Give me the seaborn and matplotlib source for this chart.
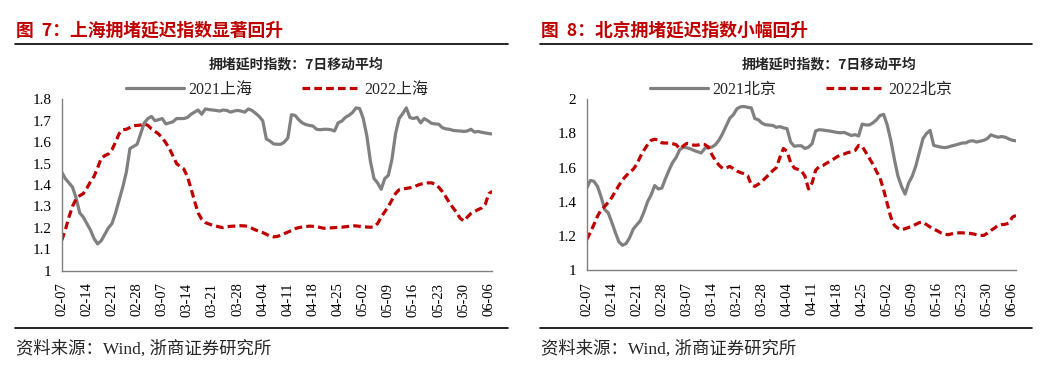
import pandas as pd
import seaborn as sns
import matplotlib.pyplot as plt
from matplotlib.lines import Line2D

# daily values from 02-07 to 06-07 (7-day moving average of congestion delay index)
sh_2021 = [1.46, 1.43, 1.41, 1.39, 1.34, 1.27, 1.25, 1.22, 1.19, 1.15,
           1.125, 1.14, 1.17, 1.20, 1.22, 1.27, 1.33, 1.39, 1.46, 1.57,
           1.58, 1.59, 1.64, 1.69, 1.71, 1.72, 1.70, 1.705, 1.71, 1.685,
           1.69, 1.695, 1.71, 1.71, 1.71, 1.715, 1.73, 1.74, 1.75, 1.73,
           1.755, 1.752, 1.75, 1.748, 1.745, 1.75, 1.748, 1.74, 1.745, 1.748,
           1.745, 1.74, 1.755, 1.748, 1.735, 1.72, 1.70, 1.615, 1.605, 1.592,
           1.59, 1.59, 1.60, 1.62, 1.728, 1.725, 1.705, 1.69, 1.682, 1.678,
           1.675, 1.66, 1.658, 1.66, 1.66, 1.658, 1.652, 1.69, 1.698, 1.715,
           1.725, 1.738, 1.76, 1.757, 1.71, 1.63, 1.51, 1.43, 1.41, 1.38,
           1.43, 1.445, 1.52, 1.64, 1.71, 1.733, 1.76, 1.715, 1.71, 1.716,
           1.69, 1.71, 1.70, 1.688, 1.685, 1.684, 1.668, 1.662, 1.66, 1.655,
           1.653, 1.652, 1.65, 1.652, 1.66, 1.647, 1.65, 1.646, 1.643, 1.64,
           1.638]
sh_2022 = [1.142, 1.19, 1.25, 1.30, 1.335, 1.35, 1.36, 1.385, 1.415, 1.44,
           1.48, 1.525, 1.537, 1.545, 1.565, 1.60, 1.64, 1.658, 1.66, 1.668,
           1.677, 1.678, 1.68, 1.686, 1.678, 1.662, 1.65, 1.638, 1.62, 1.597,
           1.57, 1.535, 1.50, 1.486, 1.475, 1.44, 1.385, 1.325, 1.27, 1.24,
           1.225, 1.218, 1.212, 1.208, 1.204, 1.201, 1.205, 1.207, 1.208, 1.209,
           1.21, 1.209, 1.206, 1.198, 1.19, 1.184, 1.178, 1.17, 1.162, 1.158,
           1.16, 1.165, 1.173, 1.18, 1.188, 1.196, 1.201, 1.204, 1.206, 1.208,
           1.207, 1.205, 1.202, 1.198, 1.199, 1.20, 1.201, 1.202, 1.203, 1.205,
           1.207, 1.21, 1.209, 1.207, 1.205, 1.204, 1.203, 1.205, 1.22, 1.25,
           1.275, 1.30, 1.33, 1.36, 1.378, 1.382, 1.384, 1.387, 1.39, 1.398,
           1.404, 1.408, 1.41, 1.41, 1.405, 1.39, 1.37, 1.345, 1.318, 1.294,
           1.272, 1.245, 1.232, 1.25, 1.267, 1.276, 1.285, 1.293, 1.31, 1.36,
           1.37]
bj_2021 = [1.48, 1.525, 1.52, 1.49, 1.43, 1.355, 1.335, 1.28, 1.22, 1.165,
           1.145, 1.155, 1.19, 1.24, 1.265, 1.29, 1.34, 1.40, 1.44, 1.495,
           1.475, 1.48, 1.535, 1.585, 1.63, 1.66, 1.705, 1.72, 1.716, 1.71,
           1.70, 1.693, 1.686, 1.712, 1.72, 1.72, 1.735, 1.762, 1.80, 1.845,
           1.89, 1.91, 1.945, 1.956, 1.958, 1.953, 1.95, 1.887, 1.88, 1.86,
           1.851, 1.849, 1.847, 1.836, 1.84, 1.833, 1.828, 1.75, 1.725, 1.728,
           1.728, 1.712, 1.72, 1.74, 1.815, 1.822, 1.82, 1.817, 1.814, 1.81,
           1.806, 1.804, 1.806, 1.797, 1.788, 1.793, 1.785, 1.855, 1.85, 1.85,
           1.862, 1.88, 1.905, 1.912, 1.85, 1.76, 1.65, 1.55, 1.49, 1.445,
           1.51, 1.55, 1.61, 1.69, 1.77, 1.80, 1.818, 1.73, 1.725, 1.72,
           1.717, 1.72, 1.727, 1.732, 1.738, 1.744, 1.745, 1.755, 1.757, 1.75,
           1.755, 1.76, 1.77, 1.792, 1.784, 1.778, 1.782, 1.778, 1.768, 1.76,
           1.757]
bj_2022 = [1.178, 1.22, 1.266, 1.315, 1.352, 1.372, 1.397, 1.425, 1.46, 1.496,
           1.528, 1.552, 1.574, 1.59, 1.62, 1.665, 1.702, 1.734, 1.76, 1.766,
           1.762, 1.745, 1.744, 1.744, 1.74, 1.734, 1.711, 1.727, 1.742, 1.737,
           1.731, 1.732, 1.737, 1.735, 1.72, 1.676, 1.64, 1.614, 1.595, 1.598,
           1.607, 1.594, 1.58, 1.571, 1.564, 1.552, 1.50, 1.49, 1.503, 1.52,
           1.54, 1.561, 1.582, 1.60, 1.66, 1.712, 1.695, 1.63, 1.598, 1.59,
           1.582, 1.55, 1.475, 1.51, 1.585, 1.606, 1.612, 1.625, 1.637, 1.65,
           1.664, 1.674, 1.68, 1.688, 1.693, 1.70, 1.73, 1.725, 1.69, 1.655,
           1.62, 1.578, 1.539, 1.47, 1.39, 1.31, 1.262, 1.245, 1.236, 1.242,
           1.25, 1.256, 1.268, 1.278, 1.28, 1.266, 1.252, 1.24, 1.23, 1.218,
           1.21, 1.207, 1.212, 1.215, 1.218, 1.218, 1.216, 1.215, 1.212, 1.207,
           1.203, 1.203, 1.216, 1.232, 1.246, 1.262, 1.266, 1.268, 1.275, 1.31,
           1.32]

tick_labels = ['02-07', '02-14', '02-21', '02-28', '03-07', '03-14', '03-21', '03-28', '04-04',
               '04-11', '04-18', '04-25', '05-02', '05-09', '05-16', '05-23', '05-30', '06-06']

GRAY = '#808080'
RED = '#C00000'
SERIF = ['Liberation Serif', 'Noto Sans CJK SC']
CJK_BOLD = ['Noto Sans CJK SC', 'DejaVu Sans']

sns.set_style('white')
plt.rcParams['font.family'] = SERIF

fig = plt.figure(figsize=(10.5, 3.88), dpi=100)


def panel(rect, v21, v22, city, yticks, ylabels):
    ax = fig.add_axes(rect)
    n = len(v21)
    df = pd.DataFrame({
        'day': list(range(n)) * 2,
        'value': v21 + v22,
        'series': ['2021' + city] * n + ['2022' + city] * n,
    })
    sns.lineplot(data=df, x='day', y='value', hue='series', style='series',
                 palette={'2021' + city: GRAY, '2022' + city: RED},
                 dashes={'2021' + city: '', '2022' + city: (2.4, 1.3)},
                 linewidth=2.3, ax=ax)
    ax.set_xlim(0, 120)
    ax.set_ylim(yticks[0], yticks[-1])
    ax.set_xticks(range(0, 120, 7))
    ax.set_xticklabels(tick_labels, rotation=90, fontsize=10.5)
    ax.set_yticks(yticks)
    ax.set_yticklabels(ylabels, fontsize=11)
    ax.set_xlabel('')
    ax.set_ylabel('')
    for s in ['top', 'right']:
        ax.spines[s].set_visible(False)
    for s in ['left', 'bottom']:
        ax.spines[s].set_color(GRAY)
        ax.spines[s].set_linewidth(1.0)
    ax.tick_params(axis='both', direction='out', length=3.5, width=0.9, color=GRAY,
                   colors='black', pad=4)
    ax.tick_params(axis='x', pad=5)
    handles, labels = ax.get_legend_handles_labels()
    ax.legend(handles, labels, loc='center', bbox_to_anchor=(0.5, 1.055), ncol=2,
              frameon=False, fontsize=11.5, handlelength=3.6, columnspacing=3.1,
              handletextpad=0.3, borderaxespad=0)
    return ax


panel([0.0588, 0.3023, 0.4102, 0.4418], sh_2021, sh_2022, '上海',
      [1, 1.1, 1.2, 1.3, 1.4, 1.5, 1.6, 1.7, 1.8],
      ['1', '1.1', '1.2', '1.3', '1.4', '1.5', '1.6', '1.7', '1.8'])
panel([0.5588, 0.3040, 0.4088, 0.4400], bj_2021, bj_2022, '北京',
      [1, 1.2, 1.4, 1.6, 1.8, 2.0],
      ['1', '1.2', '1.4', '1.6', '1.8', '2'])

# panel titles, rules and source notes
for x0, x1, title, sub_x in [(15, 508, '图  7：上海拥堵延迟指数显著回升', 296),
                             (540, 1032, '图  8：北京拥堵延迟指数小幅回升', 829)]:
    fig.text(x0 / 1050 + 0.001, 1 - 30 / 388, title, color=RED, fontsize=12.8,
             fontweight='bold', family=CJK_BOLD, ha='left', va='center')
    fig.add_artist(Line2D([x0 / 1050, x1 / 1050], [1 - 44 / 388] * 2, color='black', lw=1.2))
    fig.add_artist(Line2D([x0 / 1050, x1 / 1050], [1 - 328 / 388] * 2, color='black', lw=1.2))
    fig.text(sub_x / 1050, 1 - 64 / 388, '拥堵延时指数：7日移动平均', fontsize=10,
             fontweight='bold', family=CJK_BOLD, ha='center', va='center')
    fig.text(x0 / 1050 + 0.001, 1 - 349 / 388, '资料来源：Wind, 浙商证券研究所',
             fontsize=12.5, family=SERIF, ha='left', va='center')

fig.savefig('out.png', dpi=100)
